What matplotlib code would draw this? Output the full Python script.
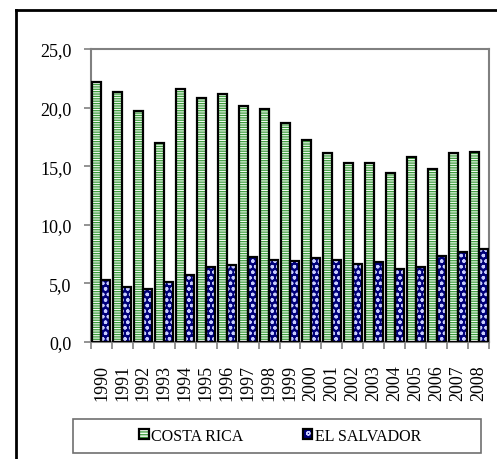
import matplotlib
matplotlib.use("Agg")
import matplotlib.pyplot as plt
import matplotlib.patches as mpatches
from matplotlib.lines import Line2D
from matplotlib.ticker import FuncFormatter, FixedLocator
from matplotlib.legend_handler import HandlerTuple
import numpy as np

years = ["1990", "1991", "1992", "1993", "1994", "1995", "1996", "1997", "1998", "1999",
         "2000", "2001", "2002", "2003", "2004", "2005", "2006", "2007", "2008"]
costa_rica = [22.2, 21.3, 19.7, 17.0, 21.6, 20.8, 21.2, 20.1, 19.9, 18.7,
              17.2, 16.1, 15.3, 15.3, 14.4, 15.8, 14.8, 16.1, 16.2]
el_salvador = [5.3, 4.7, 4.5, 5.1, 5.7, 6.4, 6.6, 7.25, 7.0, 6.9,
               7.2, 7.0, 6.65, 6.8, 6.25, 6.4, 7.3, 7.7, 7.9]
series_names = ["COSTA RICA", "EL SALVADOR"]

plt.rcParams['font.family'] = ['Liberation Serif', 'DejaVu Serif']
plt.rcParams['hatch.linewidth'] = 0.9

fig = plt.figure(figsize=(4.97, 4.60), dpi=100)
ax = fig.add_axes([91/497, 1-343/460, (489-91)/497, (343-50)/460])

x = np.arange(len(years))
w = 0.43
green = '#3c9c3c'
navy = '#00007a'
cr_face = '#f2fcf2'
es_hatch = '#c8ccff'

# Costa Rica: light with green horizontal stripes
ax.bar(x - w/2, costa_rica, w, facecolor=cr_face, edgecolor=green, hatch='-------', linewidth=0, zorder=2)
ax.bar(x - w/2, costa_rica, w, fill=False, edgecolor='black', linewidth=1.6, zorder=3)
# El Salvador: navy with white circles
ax.bar(x + w/2, el_salvador, w, facecolor=navy, edgecolor=es_hatch, hatch='ooo', linewidth=0, zorder=2)
ax.bar(x + w/2, el_salvador, w, fill=False, edgecolor='black', linewidth=1.6, zorder=3)

ax.set_xlim(-0.5, len(years) - 0.5)
ax.set_ylim(0, 25)
ax.set_yticks([0, 5, 10, 15, 20, 25])
ax.yaxis.set_major_formatter(FuncFormatter(lambda v, p: f"{v:.1f}".replace('.', ',')))
ax.set_xticks(x)
ax.set_xticklabels(years, rotation=90, fontsize=13)
ax.xaxis.set_minor_locator(FixedLocator(np.arange(-0.5, len(years), 1.0)))
ax.tick_params(axis='x', which='major', length=0, pad=16)
ax.tick_params(axis='x', which='minor', length=5, color='#808080', width=1.2, direction='out')
ax.tick_params(axis='y', length=5, color='#808080', width=1.2, direction='out', pad=9, labelsize=13)

for s in ax.spines.values():
    s.set_color('#808080')
    s.set_linewidth(1.5)

# legend box
fig.add_artist(mpatches.Rectangle((73/497, 1-454/460), (481-73)/497, 34/460,
                                  transform=fig.transFigure, facecolor='white',
                                  edgecolor='#707070', linewidth=1.2))
h1 = (mpatches.Patch(facecolor=cr_face, edgecolor=green, hatch='------', linewidth=0),
      mpatches.Patch(fill=False, edgecolor='black', linewidth=1.6))
h2 = (mpatches.Patch(facecolor=navy, edgecolor=es_hatch, hatch='oo', linewidth=0),
      mpatches.Patch(fill=False, edgecolor='black', linewidth=1.6))
fig.legend([h1, h2], series_names, loc='center', bbox_to_anchor=(280/497, 1-437/460),
           ncol=2, frameon=False, fontsize=11.5, handlelength=0.6, handleheight=0.6,
           handletextpad=0.15, columnspacing=3.7,
           handler_map={tuple: HandlerTuple(ndivide=1, pad=0)})

# outer frame
fig.add_artist(Line2D([16/497, 1.0], [1-11/460, 1-11/460], transform=fig.transFigure, color='black', linewidth=2))
fig.add_artist(Line2D([16/497, 16/497], [0, 1-11/460], transform=fig.transFigure, color='black', linewidth=2))

fig.savefig('out.png', dpi=100)
